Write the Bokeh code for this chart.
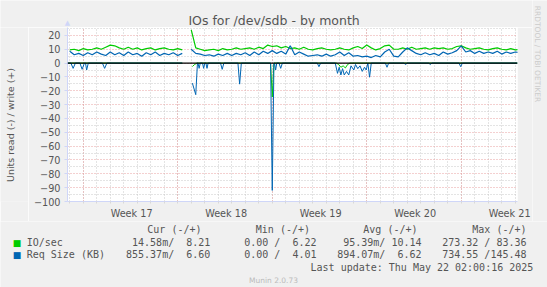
import math
from bokeh.plotting import figure
from bokeh.models import Range1d, FixedTicker, Label, Span
from bokeh.layouts import row, column
from bokeh.embed import file_html
from bokeh.resources import INLINE

nan = float("nan")

# ---------------- data ----------------
X_START, X_END = 0, 800          # hours across the month window
Y_MIN, Y_MAX = -100, 25.714

# write (+) samples every 8 hours
write_hours = [4 + 8 * i for i in range(101)]
io_write = [9.5, 10, 9, 10.5, 9.5, 10, 11, 10, 11.5, 13,
            12.5, 11, 10, 11.5, 10, 11, 9.5, 10.5, 11, 9.5,
            10.5, 11, 10, 9.5, 10.5, 9.5, nan, 24, 11, 10,
            9, 9.5, 10, 9, 10.5, 9.5, 10, 11, 10, 10.5,
            11, 10, 11.5, 10.5, 13, 12, 12.5, 11, 12, 10.5,
            11, 10, 11.5, 10, 9.5, 10.5, 11, 10, 9.5, 10,
            11, 10, 9.5, 11, 12, 10.5, 13, 11, 9.5, 10.5,
            12.5, 13, 10, 10, 11, 10, 11.5, 10, 10.5, 11,
            10, 11, 10.5, 11, 10, 10.5, 12, 12.5, 11, 10,
            10.5, 11, 10, 9.5, 10.5, 11, 10, 9.5, 10.5, 9.5,
            10]
req_write = [8.5, 6, 7, 5.5, 7.5, 6, 8, 6.5, 5.5, 8,
             6, 7.5, 5.5, 8, 6, 7, 5, 7.5, 6, 8,
             5.5, 7, 6, 7.5, 5.5, 7, nan, 10, 7, 6.5,
             5.5, 6, 5, 6.5, 5.5, 7, 5.5, 7, 6, 7.5,
             5.5, 8, 6, 8.5, 7, 9, 7, 8.5, 6.5, 12.5,
             6, 8, 6.5, 5, 5.5, 6, 5, 6.5, 5, 6,
             8, 5.5, 7.5, 5, 5.5, 4.5, 5, 4, 5.5, 4.5,
             8, 10, 5, 4.5, 8, 11, 9, 7, 6, 7.5,
             6, 7, 5.5, 8, 6.5, 7.5, 9, 12.5, 8, 9,
             7, 8.5, 7, 8, 7, 8.5, 6.5, 8, 7, 8,
             7.5]

# read (-) samples (drawn below zero)
io_read_hours = [0, 204, 212, 222, 226, 230, 361, 364, 367, 478, 482, 486,
                 490, 494, 498, 502, 800]
io_read = [0, 0, nan, 2.5, 1, 0, 0, 24.5, 0, 0, 1, 3,
           2, 3.5, 1, 0, 0]

req_read_hours = [0, 6, 10, 14, 22, 26, 30, 32, 34, 37, 62, 66, 70, 204, 212,
                  222, 228, 231, 232, 234, 236, 240, 242, 244, 246, 248, 250,
                  272, 275, 278, 303, 306, 309, 361, 364, 367, 368, 370, 372,
                  376, 379, 382, 444, 447, 450, 476, 480, 483, 486, 489, 492,
                  496, 500, 504, 509, 512, 516, 520, 524, 528, 531, 534, 537,
                  540, 565, 568, 571, 598, 601, 604, 642, 645, 648, 696, 699,
                  702, 800]
req_read = [0, 0, 3.8, 0, 0, 4.5, 0, 0, 5, 0, 0, 3.8, 0, 0, nan,
            14.5, 22.8, 0, 0, 3.8, 0, 0, 3.8, 0, 0, 3.8, 0,
            0, 4.5, 0, 0, 15.2, 0, 0, 92, 0, 0, 5, 0,
            0, 3.8, 0, 0, 2.6, 0, 0, 7.4, 3, 8.6, 4, 8.6,
            6, 8.6, 2, 5, 1, 4, 2, 6, 3, 5, 0, 10.2,
            0, 0, 3, 0, 0, 1, 0, 0, 1, 0, 0, 2.6,
            0, 0]

y_ticks = list(range(-100, 21, 10))
y_minor = list(range(-95, 26, 10))
week_lines = [27.9, 195.9, 363.9, 531.9, 699.9]
day_lines = [3.9 + 24 * k for k in range(34)]
week_label_hours = [114, 282, 450, 618, 786]
week_labels = ["Week 17", "Week 18", "Week 19", "Week 20", "Week 21"]

series_names = ["IO/sec", "Req Size (KB)"]
series_colors = ["#00CC00", "#0066B3"]
col_headers = ["Cur (-/+)", "Min (-/+)", "Avg (-/+)", "Max (-/+)"]
cur_vals = ["14.58m/  8.21", "855.37m/  6.60"]
min_vals = ["0.00 /  6.22", "0.00 /  4.01"]
avg_vals = ["95.39m/ 10.14", "894.07m/  6.62"]
max_vals = ["273.32 / 83.36", "734.55 /145.48"]

title = "IOs for /dev/sdb - by month"
y_title = "Units read (-) / write (+)"
last_update = "Last update: Thu May 22 02:00:16 2025"
version = "Munin 2.0.73"
watermark = "RRDTOOL / TOBI OETIKER"

# ---------------- layout constants ----------------
BG = "#F0F0F0"
TXT = "#555555"
AXC = "#CFD6F8"
MONO = "DejaVu Sans Mono"
SANS = "DejaVu Sans"


def strip(w, h):
    f = figure(width=w, height=h, output_backend="svg", toolbar_location=None,
               x_range=Range1d(0, w), y_range=Range1d(h, 0),
               x_axis_type=None, y_axis_type=None,
               min_border_left=0, min_border_right=0,
               min_border_top=0, min_border_bottom=0)
    f.outline_line_color = None
    f.background_fill_color = BG
    f.border_fill_color = BG
    return f


def lab(f, text, px, py, size, color=TXT, font=SANS, align="left", angle=0.0):
    # keep runs of spaces (monospace column alignment) from collapsing
    text = text.replace("  ", " \u00A0")
    f.add_layout(Label(x=px, y=py, x_units="canvas", y_units="canvas", text=text,
                       text_font=font, text_font_size=size, text_color=color,
                       text_align=align, text_baseline="middle", angle=angle))


# top strip: title + axis arrow
fig_top = strip(532, 27)
lab(fig_top, title, 273.6, 19.5, "12.5px", align="center")
lab(fig_top, "\u25B2", 67, 22, "7px", color=AXC, align="center")

# left strip: vertical axis title
fig_left = strip(28, 194)
lab(fig_left, y_title, 10, 97.5, "9.5px", align="center", angle=math.pi / 2)

# right strip: watermark
fig_right = strip(15, 221)
lab(fig_right, watermark, 5, 53.5, "7.5px", color="#CCCCCC", align="center",
    angle=-math.pi / 2)

# main chart
p = figure(width=504, height=194, output_backend="svg", toolbar_location=None,
           x_range=Range1d(X_START, X_END), y_range=Range1d(Y_MIN, Y_MAX),
           min_border_left=39, min_border_right=15,
           min_border_top=0, min_border_bottom=18)
p.border_fill_color = BG
p.background_fill_color = "#FFFFFF"
p.outline_line_color = None

p.yaxis.ticker = FixedTicker(ticks=y_ticks, minor_ticks=y_minor)
p.yaxis.axis_line_color = AXC
p.yaxis.major_tick_line_color = AXC
p.yaxis.major_tick_out = 3
p.yaxis.major_tick_in = 0
p.yaxis.minor_tick_out = 0
p.yaxis.minor_tick_in = 0
p.yaxis.major_label_standoff = 4
p.yaxis.major_label_text_font = SANS
p.yaxis.major_label_text_font_size = "9.7px"
p.yaxis.major_label_text_color = TXT

p.xaxis.ticker = FixedTicker(ticks=week_label_hours, minor_ticks=day_lines)
p.xaxis.major_label_overrides = {h: t for h, t in zip(week_label_hours, week_labels)}
p.xaxis.axis_line_color = AXC
p.xaxis.major_tick_out = 0
p.xaxis.major_tick_in = 0
p.xaxis.minor_tick_out = 2
p.xaxis.minor_tick_in = 0
p.xaxis.minor_tick_line_color = "#D8D8D8"
p.xaxis.major_label_standoff = 4
p.xaxis.major_label_text_font = SANS
p.xaxis.major_label_text_font_size = "9.7px"
p.xaxis.major_label_text_color = TXT

p.xgrid.ticker = FixedTicker(ticks=week_lines, minor_ticks=day_lines)
p.ygrid.ticker = FixedTicker(ticks=y_ticks, minor_ticks=y_minor)
for g in (p.xgrid, p.ygrid):
    g.grid_line_color = "#E8A0A0"
    g.grid_line_dash = "1 2"
    g.grid_line_width = 1
    g.minor_grid_line_color = "#C8C8C8"
    g.minor_grid_line_dash = "1 2"
    g.minor_grid_line_width = 1

p.line(io_read_hours, [-v for v in io_read], line_color=series_colors[0], line_width=1)
p.line(write_hours, io_write, line_color=series_colors[0], line_width=1.2)
p.line(req_read_hours, [-v for v in req_read], line_color=series_colors[1], line_width=1)
p.line(write_hours, req_write, line_color=series_colors[1], line_width=1.2)
p.add_layout(Span(location=0, dimension="width", line_color="#000000", line_width=1.3))

# legend strip (global y offset 221)
fig_leg = strip(547, 66)
for txt, xe in zip(col_headers, [201, 309.5, 417, 526]):
    lab(fig_leg, txt, xe, 8, "10px", font=MONO, align="right")
row_y = [21, 33.4]
for k in range(2):
    lab(fig_leg, "\u25A0", 16.5, row_y[k], "9px", color=series_colors[k], align="center")
    lab(fig_leg, series_names[k], 26.2, row_y[k], "10px", font=MONO)
    lab(fig_leg, cur_vals[k], 209.8, row_y[k], "10px", font=MONO, align="right")
    lab(fig_leg, min_vals[k], 316, row_y[k], "10px", font=MONO, align="right")
    lab(fig_leg, avg_vals[k], 421, row_y[k], "10px", font=MONO, align="right")
    lab(fig_leg, max_vals[k], 526, row_y[k], "10px", font=MONO, align="right")
lab(fig_leg, last_update, 532.8, 45.6, "10px", font=MONO, align="right")
lab(fig_leg, version, 273, 59, "7.5px", color="#BBBBBB", align="center")

layout = column(row(column(fig_top, row(fig_left, p)), fig_right), fig_leg)

open("out.html", "w").write(file_html(layout, INLINE))
